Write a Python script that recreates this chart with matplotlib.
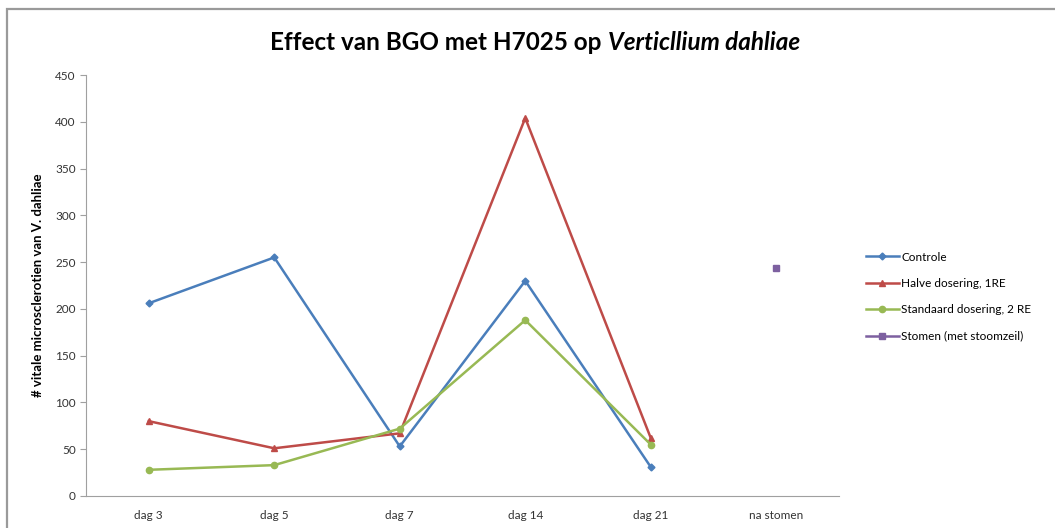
import matplotlib
matplotlib.use("Agg")
import matplotlib.pyplot as plt
from matplotlib.patches import Rectangle

categories = ["dag 3", "dag 5", "dag 7", "dag 14", "dag 21", "na stomen"]
nan = float("nan")
controle = [206, 255, 53, 230, 31, nan]
halve = [80, 51, 67, 404, 62, nan]
standaard = [28, 33, 72, 188, 55, nan]
stomen = [nan, nan, nan, nan, nan, 244]
yticks = list(range(0, 451, 50))

SERIES = [
    ("Controle", controle, "#4A7EBB", "D", 3.5),
    ("Halve dosering, 1RE", halve, "#BE4B48", "^", 4.5),
    ("Standaard dosering, 2 RE", standaard, "#98B954", "o", 4.5),
    ("Stomen (met stoomzeil)", stomen, "#7D60A0", "s", 4.5),
]

plt.rcParams["font.family"] = ["Lato", "DejaVu Sans"]

fig = plt.figure(figsize=(10.55, 5.28), dpi=100)
# outer chart frame
fig.patches.append(Rectangle((7 / 1055, -0.1), 1.2, 1 - 9 / 528 + 0.1,
                             transform=fig.transFigure, fill=False,
                             edgecolor="#9a9a9a", linewidth=1.6))

ax = fig.add_axes([86 / 1055, 1 - 496 / 528, (839 - 86) / 1055, (496 - 75) / 528])
x = list(range(len(categories)))
for name, ys, color, marker, ms in SERIES:
    ax.plot(x, ys, color=color, marker=marker, markersize=ms, linewidth=1.8,
            label=name)

ax.set_xlim(-0.5, len(categories) - 0.5)
ax.set_ylim(0, 450)
ax.set_yticks(yticks)
ax.set_xticks(x)
ax.set_xticklabels(categories)
ax.tick_params(axis="both", labelsize=8.5, colors="#333333")
ax.tick_params(axis="y", length=4, color="#a0a0a0")
ax.tick_params(axis="x", length=0, pad=10)
for s in ("top", "right"):
    ax.spines[s].set_visible(False)
for s in ("left", "bottom"):
    ax.spines[s].set_color("#a0a0a0")
ax.set_ylabel("# vitale microsclerotien van V. dahliae", fontsize=9.5,
              fontweight="bold", labelpad=8)

leg = fig.legend(loc="upper left", bbox_to_anchor=(855 / 1055, 1 - 241 / 528),
                 frameon=False, fontsize=8.5, handlelength=2.8,
                 labelspacing=1.3, handletextpad=0.2)

# title: normal part + italic species name, centred together
fig.canvas.draw()
r = fig.canvas.get_renderer()
ty = 1 - 42 / 528
t1 = fig.text(0, ty, "Effect van BGO met H7025 op ", fontsize=17.5,
              fontweight="bold", va="center", ha="left")
t2 = fig.text(0, ty, "Verticllium dahliae", fontsize=17.5, fontweight="bold",
              style="italic", va="center", ha="left")
w1 = t1.get_window_extent(r).width
w2 = t2.get_window_extent(r).width
start = 535 - (w1 + w2) / 2
t1.set_x(start / 1055)
t2.set_x((start + w1) / 1055)

fig.savefig("out.png", dpi=100)
